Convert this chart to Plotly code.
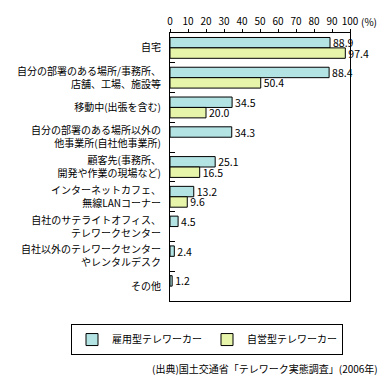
import plotly.graph_objects as go

categories = [
    "自宅",
    "自分の部署のある場所/事務所、<br>店舗、工場、施設等",
    "移動中(出張を含む)",
    "自分の部署のある場所以外の<br>他事業所(自社他事業所)",
    "顧客先(事務所、<br>開発や作業の現場など)",
    "インターネットカフェ、<br>無線LANコーナー",
    "自社のサテライトオフィス、<br>テレワークセンター",
    "自社以外のテレワークセンター<br>やレンタルデスク",
    "その他",
]
employed = [88.9, 88.4, 34.5, 34.3, 25.1, 13.2, 4.5, 2.4, 1.2]
self_employed = [97.4, 50.4, 20.0, None, 16.5, 9.6, None, None, None]
series_names = ["雇用型テレワーカー", "自営型テレワーカー"]
x_ticks = [0, 10, 20, 30, 40, 50, 60, 70, 80, 90, 100]
x_tick_labels = ["0", "10", "20", "30", "40", "50", "60", "70", "80", "90", "100"]

FONT = "Noto Sans CJK JP"
fig = go.Figure()
for name, vals, color in [
    (series_names[0], employed, "#B3E3E3"),
    (series_names[1], self_employed, "#E6F5AA"),
]:
    fig.add_trace(go.Bar(
        y=categories, x=vals, name=name, orientation="h",
        marker=dict(color=color, line=dict(color="#000000", width=1)),
        text=[("%.1f" % v) if v is not None else "" for v in vals],
        textposition="outside", cliponaxis=False, constraintext="none",
        textfont=dict(family=FONT, size=10.5, color="#000000"),
    ))

fig.update_layout(
    width=387, height=379,
    margin=dict(l=162, r=45, t=25, b=86, autoexpand=False),
    paper_bgcolor="white", plot_bgcolor="white",
    barmode="group", bargap=0.3, bargroupgap=0,
    font=dict(family=FONT, size=10, color="#000000"),
    showlegend=True,
    legend=dict(
        orientation="h", x=-0.55, xanchor="left", y=-0.086, yanchor="top",
        bordercolor="#000000", borderwidth=1, font=dict(size=10),
        itemwidth=30,
    ),
    xaxis=dict(
        side="top", range=[0, 100], tickvals=x_ticks, ticktext=x_tick_labels,
        tickangle=0, ticks="outside", ticklen=3, tickcolor="#000000",
        showgrid=False, zeroline=False, showline=True, linecolor="#000000",
        mirror=True, tickfont=dict(size=10), automargin=False,
    ),
    yaxis=dict(
        autorange="reversed", type="category",
        ticks="inside", tickson="boundaries", ticklen=5, tickcolor="#000000",
        showgrid=False, showline=True, linecolor="#000000", mirror=True,
        tickfont=dict(size=10), ticklabelstandoff=6, automargin=False,
    ),
    annotations=[
        dict(
            text="(出典)国土交通省「テレワーク実態調査」(2006年)",
            xref="paper", yref="paper", x=1.167, y=-0.25,
            xanchor="right", yanchor="middle", showarrow=False,
            font=dict(size=10),
        ),
        dict(
            text="(%)", xref="paper", yref="paper", x=1.05, y=1.0 + 11 / 268,
            xanchor="left", yanchor="middle", showarrow=False,
            font=dict(size=10),
        ),
    ],
)
fig.write_html("out.html")
